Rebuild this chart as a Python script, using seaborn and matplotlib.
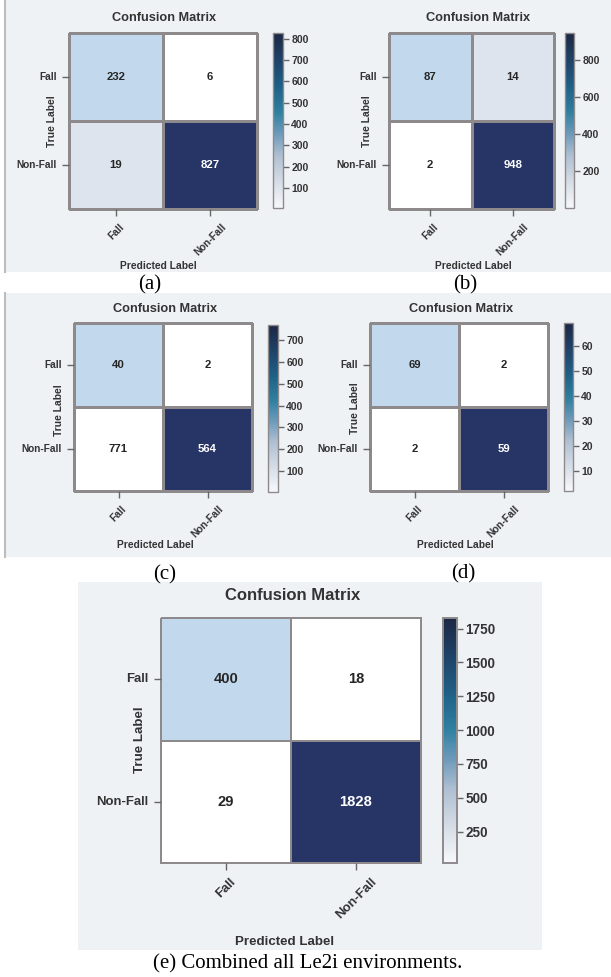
import numpy as np
import matplotlib
matplotlib.use("Agg")
import matplotlib.pyplot as plt
import seaborn as sns
from matplotlib.colors import ListedColormap, LinearSegmentedColormap, Normalize
from matplotlib.cm import ScalarMappable
from matplotlib.patches import Rectangle
from matplotlib.lines import Line2D

# ---- data ----
class_labels = ["Fall", "Non-Fall"]

counts_a = [[232, 6], [19, 827]]
counts_b = [[87, 14], [2, 948]]
counts_c = [[40, 2], [771, 564]]
counts_d = [[69, 2], [2, 59]]
counts_e = [[400, 18], [29, 1828]]

# cell shading as it appears in the source (0 white, 1 pale, 2 light blue, 3 navy)
shade_a = [[2, 0], [1, 3]]
shade_b = [[2, 1], [0, 3]]
shade_c = [[2, 0], [0, 3]]
shade_d = [[2, 0], [0, 3]]
shade_e = [[2, 0], [0, 3]]

cbar_ticks_a = [100, 200, 300, 400, 500, 600, 700, 800]
cbar_ticks_b = [200, 400, 600, 800]
cbar_ticks_c = [100, 200, 300, 400, 500, 600, 700]
cbar_ticks_d = [10, 20, 30, 40, 50, 60]
cbar_ticks_e = [250, 500, 750, 1000, 1250, 1500, 1750]

captions = ["(a)", "(b)", "(c)", "(d)", "(e) Combined all Le2i environments."]

# ---- styling ----
W, H = 611, 977
plt.rcParams["font.family"] = ["Liberation Sans", "DejaVu Sans"]
txt = "#333333"
edge = "#8e8a8c"
panel_bg = "#eef2f5"
cell_cmap = ListedColormap(["#ffffff", "#dde4ee", "#c2d9ed", "#263566"])
bar_cmap = LinearSegmentedColormap.from_list(
    "bar", [(0.0, "#f6f8fb"), (0.15, "#d5dce6"), (0.3, "#aebfd2"), (0.42, "#6f9bbb"),
            (0.55, "#2d7fa0"), (0.7, "#1f5f85"), (0.85, "#1f4167"), (1.0, "#1c2844")])


def frac(x0, y0, x1, y1):
    return [x0 / W, 1 - y1 / H, (x1 - x0) / W, (y1 - y0) / H]


def confusion_panel(fig, counts, shade, ticks, hm, cb, title_xy, xlab_xy, ylab_xy, big=False):
    s = 1.3 if big else 1.0
    lw = 1.2 if big else 0.8
    ax = fig.add_axes(frac(*hm))
    sns.heatmap(np.array(shade), annot=np.array(counts), fmt="d", cmap=cell_cmap,
                vmin=0, vmax=3, cbar=False, linewidths=lw,
                linecolor=edge, xticklabels=class_labels, yticklabels=class_labels,
                annot_kws={"weight": "bold", "size": 8.2 * s}, ax=ax)
    ax.collections[0].set_clip_on(False)

    x0, y0, x1, y1 = hm

    def to_ax(px, py):
        return (px - x0) / (x1 - x0), (y1 - py) / (y1 - y0)

    ax.tick_params(length=5, width=1, color="#666666", labelcolor=txt,
                   labelsize=7.3 * s, pad=4)
    plt.setp(ax.get_xticklabels(), rotation=45, ha="center", weight="bold")
    plt.setp(ax.get_yticklabels(), rotation=0, weight="bold")

    tx, ty = to_ax(*title_xy)
    ax.set_title("Confusion Matrix", x=tx, y=ty, pad=0, va="center",
                 weight="bold", size=9.2 * s, color=txt)
    ax.set_xlabel("Predicted Label", weight="bold", size=7.4 * s, color=txt)
    ax.xaxis.set_label_coords(*to_ax(*xlab_xy))
    ax.xaxis.label.set_va("center")
    ax.set_ylabel("True Label", weight="bold", size=7.4 * s, color=txt)
    ax.yaxis.set_label_coords(*to_ax(*ylab_xy))
    ax.yaxis.label.set_va("center")

    cax = fig.add_axes(frac(*cb))
    flat = np.array(counts).ravel()
    sm = ScalarMappable(norm=Normalize(flat.min(), flat.max()), cmap=bar_cmap)
    cbar = fig.colorbar(sm, cax=cax, ticks=ticks)
    cbar.outline.set_edgecolor(edge)
    cbar.outline.set_linewidth(lw + 0.2)
    cax.tick_params(length=4, width=1, color="#666666", labelcolor=txt,
                    labelsize=7.5 * s, pad=2)
    plt.setp(cax.get_yticklabels(), weight="bold")
    return ax


fig = plt.figure(figsize=(W / 100, H / 100), dpi=100)

# grey panel backgrounds like the screenshots
for (bx0, by0, bx1, by1) in [(5, 0, 611, 272), (5, 293, 611, 557), (78, 582, 542, 950)]:
    fig.add_artist(Rectangle((bx0 / W, 1 - by1 / H), (bx1 - bx0) / W, (by1 - by0) / H,
                             transform=fig.transFigure, color=panel_bg, zorder=-10, lw=0))
for (ly0, ly1) in [(0, 272), (293, 557)]:
    fig.add_artist(Line2D([5 / W, 5 / W], [1 - ly0 / H, 1 - ly1 / H], transform=fig.transFigure,
                          color="#bdbdbd", lw=1.5, zorder=-5))

confusion_panel(fig, counts_a, shade_a, cbar_ticks_a, (69, 33, 257, 209), (273, 33, 283, 208),
                (164, 18), (158, 266), (52, 121))
confusion_panel(fig, counts_b, shade_b, cbar_ticks_b, (389, 33, 554, 209), (565, 33, 574, 208),
                (478, 18), (473, 266), (367, 121))
confusion_panel(fig, counts_c, shade_c, cbar_ticks_c, (74, 323, 252, 491), (268, 325, 278, 492),
                (165, 309), (155, 545), (59, 410))
confusion_panel(fig, counts_d, shade_d, cbar_ticks_d, (370, 323, 548, 491), (564, 323, 573, 491),
                (461, 309), (455, 545), (355, 408))
confusion_panel(fig, counts_e, shade_e, cbar_ticks_e, (161, 618, 421, 863), (443, 618, 457, 863),
                (293, 596), (285, 942), (140, 740), big=True)

for cap, (cx, cy) in zip(captions, [(150, 285), (465, 285), (165, 575), (463, 574), (308, 964)]):
    fig.text(cx / W, 1 - cy / H, cap, ha="center", va="center", size=15,
             family="Liberation Serif", color="black")

fig.savefig("out.png", dpi=100, facecolor="white")
